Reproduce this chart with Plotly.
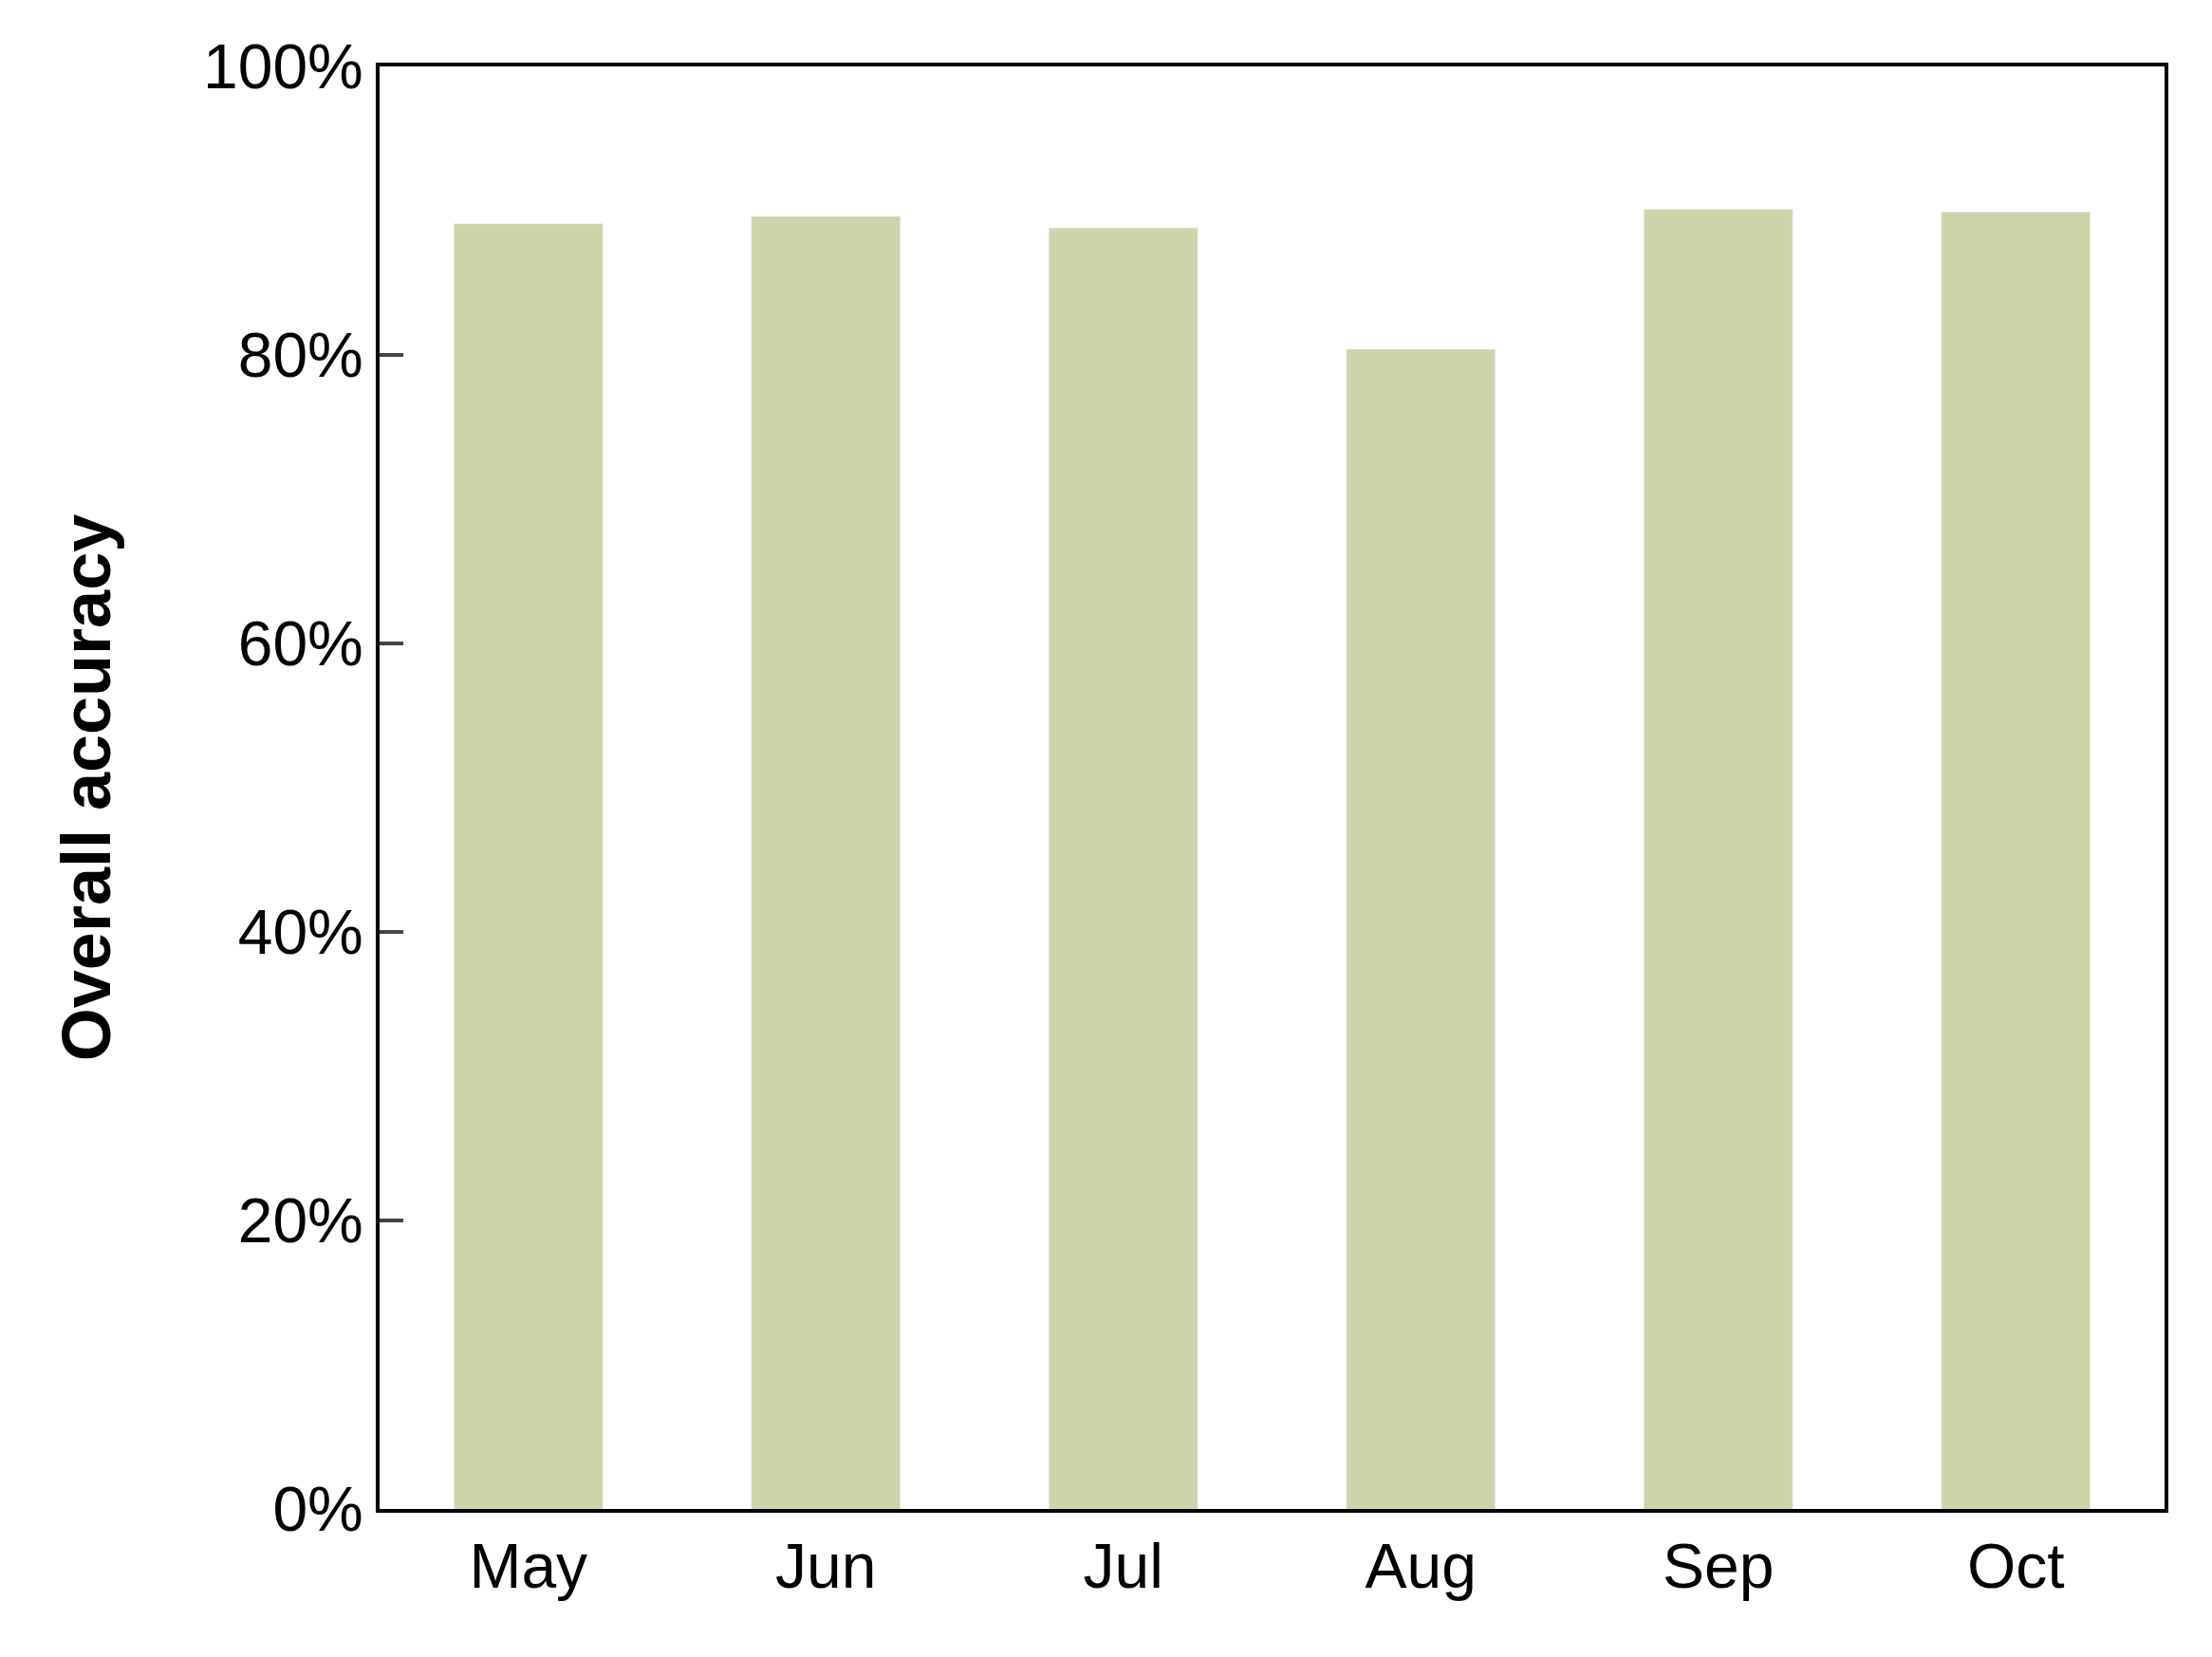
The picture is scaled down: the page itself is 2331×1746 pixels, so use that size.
import plotly.graph_objects as go

months = ["May", "Jun", "Jul", "Aug", "Sep", "Oct"]
accuracy = [0.891, 0.896, 0.888, 0.804, 0.901, 0.899]
ytick_vals = [0, 0.2, 0.4, 0.6, 0.8, 1.0]
ytick_text = ["0%", "20%", "40%", "60%", "80%", "100%"]

fig = go.Figure(go.Bar(x=months, y=accuracy, marker_color="#CCD5AA", width=0.5))
fig.update_layout(
    width=2331, height=1746, plot_bgcolor="white", paper_bgcolor="white",
    margin=dict(l=392, r=58, t=62, b=164),
    font=dict(family="Liberation Sans, Arial", size=66, color="black"),
    showlegend=False,
)
fig.update_xaxes(showline=True, linecolor="black", linewidth=4, mirror=True, ticks="",
                 tickfont=dict(size=66))
fig.update_yaxes(range=[0, 1], tickvals=ytick_vals, ticktext=ytick_text,
                 showline=True, linecolor="black", linewidth=4, mirror=True,
                 ticks="inside", ticklen=25, tickwidth=4, showgrid=False,
                 title=dict(text="<b>Overall accuracy</b>", font=dict(size=72), standoff=75),
                 tickfont=dict(size=66))
fig.write_html("out.html")
